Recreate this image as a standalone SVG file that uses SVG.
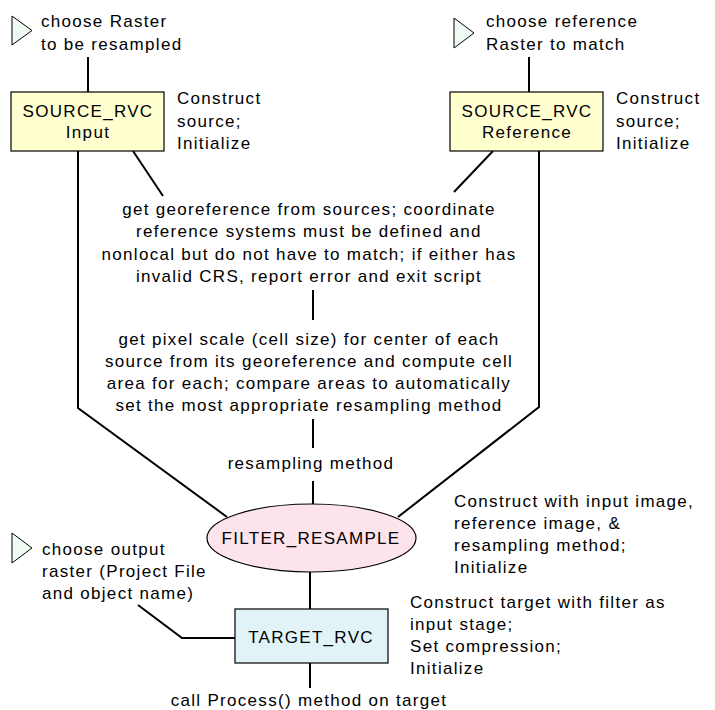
<svg xmlns="http://www.w3.org/2000/svg" width="715" height="710" viewBox="0 0 715 710">
<style>
text{font-family:"Liberation Sans",Arial,sans-serif;font-size:17px;letter-spacing:1.3px;fill:#000}
.c{text-anchor:middle}
.box{stroke:#000;stroke-width:1.2}
.tri{fill:#eefaf2;stroke:#000;stroke-width:1}
#connectors path{fill:none;stroke:#000;stroke-width:2}
</style>
<rect width="715" height="710" fill="#fff"/>
<g id="connectors">
<path d="M88,57V92"/>
<path d="M529,57V92"/>
<path d="M78,151V408L227,517"/>
<path d="M133,151L163,196"/>
<path d="M493,151L454,192"/>
<path d="M539,151V407L398,517"/>
<path d="M313,290V320"/>
<path d="M313,419V448"/>
<path d="M313,481V504"/>
<path d="M310,572V609"/>
<path d="M138,605L182,638H235"/>
<path d="M310,663V688"/>
</g>
<g id="start-input">
<polygon class="tri" points="12,16 32,30.5 12,45"/>
<text x="41" y="27">choose Raster</text>
<text x="41" y="50">to be resampled</text>
</g>
<g id="start-reference">
<polygon class="tri" points="454,18 474,33 454,48"/>
<text x="486" y="27">choose reference</text>
<text x="486" y="50">Raster to match</text>
</g>
<g id="source-input">
<rect class="box" x="11" y="92" width="153" height="59" fill="#ffffd0"/>
<text class="c" x="88" y="117">SOURCE_RVC</text>
<text class="c" x="88" y="138">Input</text>
<text x="177" y="104">Construct</text>
<text x="177" y="127">source;</text>
<text x="177" y="149">Initialize</text>
</g>
<g id="source-reference">
<rect class="box" x="450" y="92" width="153" height="59" fill="#ffffd0"/>
<text class="c" x="527" y="117">SOURCE_RVC</text>
<text class="c" x="527" y="138">Reference</text>
<text x="616" y="104">Construct</text>
<text x="616" y="127">source;</text>
<text x="616" y="149">Initialize</text>
</g>
<g id="georeference">
<text class="c" x="309" y="215">get georeference from sources; coordinate</text>
<text class="c" x="309" y="237">reference systems must be defined and</text>
<text class="c" x="309" y="260">nonlocal but do not have to match; if either has</text>
<text class="c" x="309" y="282">invalid CRS, report error and exit script</text>
</g>
<g id="pixel-scale">
<text class="c" x="309" y="345">get pixel scale (cell size) for center of each</text>
<text class="c" x="309" y="367">source from its georeference and compute cell</text>
<text class="c" x="309" y="389">area for each; compare areas to automatically</text>
<text class="c" x="309" y="411">set the most appropriate resampling method</text>
</g>
<g id="resampling-method">
<text class="c" x="311" y="469">resampling method</text>
</g>
<g id="filter-resample">
<ellipse class="box" cx="311.5" cy="538" rx="104.5" ry="34" fill="#fde3ec"/>
<text class="c" x="311" y="544">FILTER_RESAMPLE</text>
<text x="454" y="507">Construct with input image,</text>
<text x="454" y="529">reference image, &amp;</text>
<text x="454" y="551">resampling method;</text>
<text x="454" y="573">Initialize</text>
</g>
<g id="choose-output">
<polygon class="tri" points="12,533 32,548 12,563"/>
<text x="42" y="555">choose output</text>
<text x="42" y="577">raster (Project File</text>
<text x="42" y="599">and object name)</text>
</g>
<g id="target-rvc">
<rect class="box" x="235" y="609" width="153" height="54" fill="#e2f3f7"/>
<text class="c" x="311" y="643">TARGET_RVC</text>
<text x="410" y="608">Construct target with filter as</text>
<text x="410" y="630">input stage;</text>
<text x="410" y="652">Set compression;</text>
<text x="410" y="674">Initialize</text>
</g>
<g id="process">
<text class="c" x="309" y="706">call Process() method on target</text>
</g>
</svg>
